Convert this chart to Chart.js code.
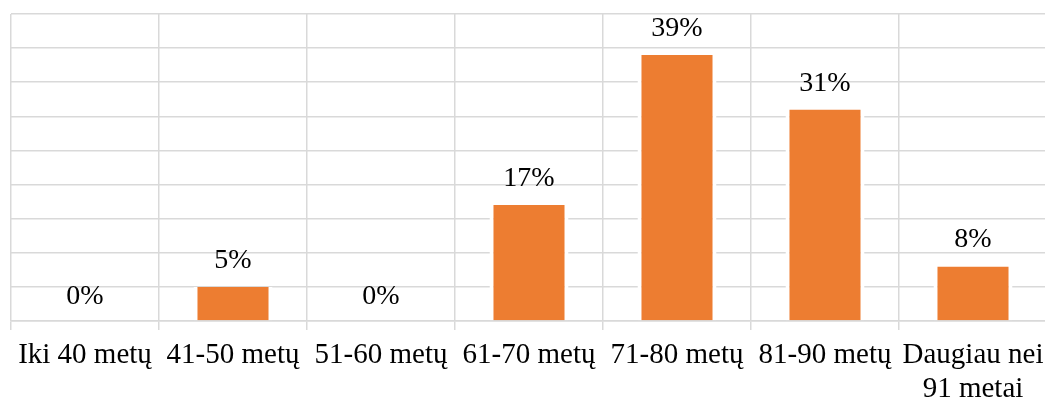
<!DOCTYPE html>
<html>
<head>
<meta charset="utf-8">
<script src="https://cdn.jsdelivr.net/npm/chart.js@4/dist/chart.umd.min.js"></script>
<style>
  html, body { margin: 0; padding: 0; background: #ffffff; overflow: hidden; }
  #wrap { width: 1047px; height: 401px; }
</style>
</head>
<body>
<div id="wrap"><canvas id="c" width="1047" height="401"></canvas></div>
<script>
// Age groups and share of respondents (%)
const categories = ['Iki 40 metų', '41-50 metų', '51-60 metų', '61-70 metų', '71-80 metų', '81-90 metų', ['Daugiau nei', '91 metai']];
const shares = [0, 5, 0, 17, 39, 31, 8];
const yTicks = [0, 5, 10, 15, 20, 25, 30, 35, 40, 45];

const FONT = "'Liberation Serif', 'Times New Roman', serif";
const GRID = '#d9d9d9';

// Percent labels above each bar
const valueLabels = {
  id: 'valueLabels',
  afterDatasetsDraw(chart) {
    const ctx = chart.ctx;
    const meta = chart.getDatasetMeta(0);
    ctx.save();
    ctx.font = '28px ' + FONT;
    ctx.fillStyle = '#000000';
    ctx.textAlign = 'center';
    ctx.textBaseline = 'alphabetic';
    meta.data.forEach((bar, i) => {
      const v = chart.data.datasets[0].data[i];
      const gap = v === 0 ? 17 : 19;
      ctx.fillText(v + '%', bar.x, bar.y - gap);
    });
    ctx.restore();
  }
};

new Chart(document.getElementById('c'), {
  type: 'bar',
  data: {
    labels: categories,
    datasets: [{
      data: shares,
      backgroundColor: '#ED7D31',
      borderColor: '#ffffff',
      borderWidth: { left: 4, right: 4, top: 0, bottom: 0 },
      barPercentage: 0.534,
      categoryPercentage: 1
    }]
  },
  options: {
    responsive: false,
    animation: false,
    layout: { padding: { left: 11, top: 14, right: 0, bottom: 0 } },
    plugins: { legend: { display: false }, tooltip: { enabled: false } },
    scales: {
      x: {
        grid: { color: GRID, lineWidth: 1.5, tickLength: 9, offset: true },
        border: { color: GRID, width: 1.5 },
        ticks: {
          color: '#000000',
          font: { family: FONT, size: 29, lineHeight: 1.17 },
          padding: 8,
          maxRotation: 0,
          autoSkip: false
        },
        afterFit(scale) {
          scale.height = 80;
          // keep the plot edges fixed; the outer labels may run into the margins
          scale.paddingLeft = 0;
          scale.paddingRight = 0;
        }
      },
      y: {
        min: 0,
        max: 45,
        afterBuildTicks(scale) { scale.ticks = yTicks.map(v => ({ value: v })); },
        grid: { color: GRID, lineWidth: 1.5, drawTicks: false },
        border: { display: false },
        ticks: { display: false },
        afterFit(scale) { scale.width = 0; }
      }
    }
  },
  plugins: [valueLabels]
});
</script>
</body>
</html>
